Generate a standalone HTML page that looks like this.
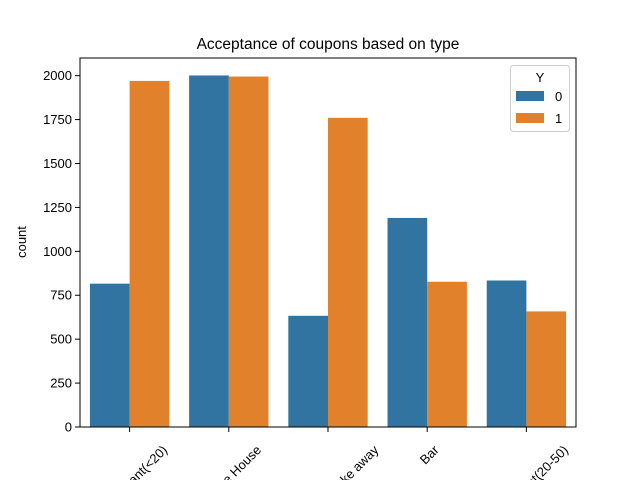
<!DOCTYPE html>
<html><head><meta charset="utf-8"><style>
html,body{margin:0;background:#fff;width:640px;height:480px;overflow:hidden}
svg{display:block;font-family:"Liberation Sans","DejaVu Sans",sans-serif}
</style></head><body>
<svg id="chart" width="640" height="480" viewBox="0 0 640 480" overflow="hidden">
<rect width="640" height="480" fill="#fff"/>
<text x="328" y="49" font-size="15.5" text-anchor="middle" fill="#000">Acceptance of coupons based on type</text>
<text transform="translate(26,242) rotate(-90)" font-size="13" text-anchor="middle">count</text>
<g id="bars"></g>
<g id="yticks"></g>
<g id="xticks"></g>
<rect x="80" y="58" width="496" height="369" fill="none" stroke="#000" stroke-width="1"/>
<g>
<rect x="510.5" y="65.5" width="59" height="66" rx="3" fill="#fff" fill-opacity="0.8" stroke="#ccc"/>
<text x="540" y="82" font-size="13" text-anchor="middle">Y</text>
<rect x="516" y="91" width="28" height="10" fill="#3274a1"/>
<text x="555" y="101" font-size="13">0</text>
<rect x="516" y="113" width="28" height="10" fill="#e1812c"/>
<text x="555" y="123" font-size="13">1</text>
</g>
</svg>
<script>
const categories = ["Restaurant(<20)", "Coffee House", "Carry out & Take away", "Bar", "Restaurant(20-50)"];
const series0 = [816, 2001, 633, 1190, 834];
const series1 = [1970, 1995, 1760, 827, 658];
const yTicks = [0, 250, 500, 750, 1000, 1250, 1500, 1750, 2000];
const NS = "http://www.w3.org/2000/svg";
const L = 80, R = 576, T = 58, B = 427, yMax = 2100.5;
function yScale(v){ return B - v / yMax * (B - T); }
function xCenter(i){ return L + (i + 0.5) * (R - L) / categories.length; }
const bw = 0.8 * (R - L) / categories.length / 2;
const bars = document.getElementById('bars');
[series0, series1].forEach(function(s, k){
  s.forEach(function(v, i){
    const r = document.createElementNS(NS, 'rect');
    r.setAttribute('x', xCenter(i) - bw + k * bw);
    r.setAttribute('y', yScale(v));
    r.setAttribute('width', bw);
    r.setAttribute('height', B - yScale(v));
    r.setAttribute('fill', k ? '#e1812c' : '#3274a1');
    
    
    bars.appendChild(r);
  });
});
const yt = document.getElementById('yticks');
yTicks.forEach(function(v){
  const y = yScale(v);
  const l = document.createElementNS(NS, 'line');
  l.setAttribute('x1', L - 5); l.setAttribute('x2', L); l.setAttribute('y1', y); l.setAttribute('y2', y);
  l.setAttribute('stroke', '#000');
  
  
  yt.appendChild(l);
  const t = document.createElementNS(NS, 'text');
  t.setAttribute('x', L - 8); t.setAttribute('y', y + 4.5);
  t.setAttribute('font-size', '13'); t.setAttribute('text-anchor', 'end');
  t.textContent = v;
  
  
  yt.appendChild(t);
});
const xt = document.getElementById('xticks');
categories.forEach(function(c, i){
  const x = xCenter(i);
  const l = document.createElementNS(NS, 'line');
  l.setAttribute('x1', x); l.setAttribute('x2', x); l.setAttribute('y1', B); l.setAttribute('y2', B + 5);
  l.setAttribute('stroke', '#000');
  
  
  xt.appendChild(l);
  const t = document.createElementNS(NS, 'text');
  t.setAttribute('font-size', '13'); t.setAttribute('text-anchor', 'middle');
  t.textContent = c;
  
  
  xt.appendChild(t);
  const w = t.getComputedTextLength(), h = 13;
  const cy = B + 16 + (w + h) * 0.3536;
  t.setAttribute('transform', 'translate(' + (x + 2) + ',' + cy + ') rotate(-45) translate(0,4.5)');
});
</script>
</body></html>
